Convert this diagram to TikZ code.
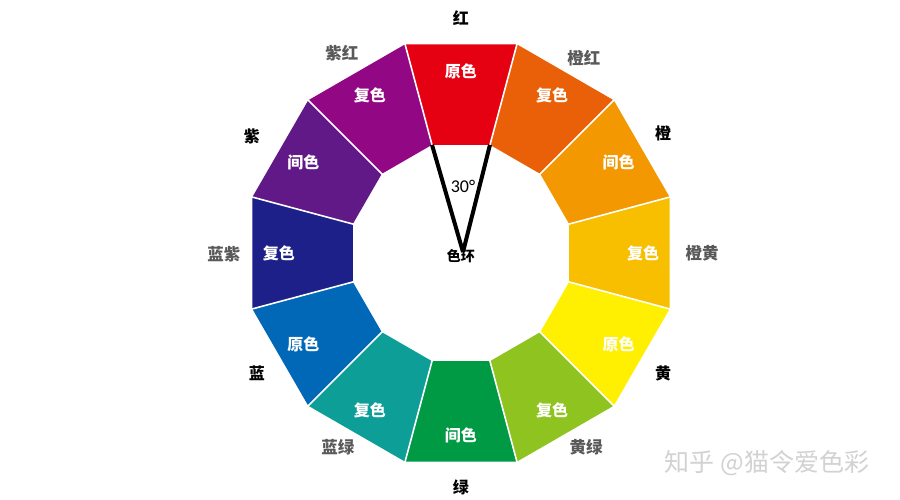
\documentclass[tikz,border=0pt]{standalone}
\usepackage{fontspec}
\setmainfont{Carlito}
\newfontfamily\cjk{Noto Sans CJK SC}
\definecolor{cR}{HTML}{E50012}
\definecolor{cRO}{HTML}{EA6008}
\definecolor{cO}{HTML}{F39800}
\definecolor{cOY}{HTML}{F7BF00}
\definecolor{cY}{HTML}{FFEF00}
\definecolor{cYG}{HTML}{8FC31F}
\definecolor{cG}{HTML}{009944}
\definecolor{cBG}{HTML}{0E9E98}
\definecolor{cB}{HTML}{0068B7}
\definecolor{cBV}{HTML}{1D2088}
\definecolor{cV}{HTML}{601986}
\definecolor{cRV}{HTML}{920783}
\definecolor{wm}{HTML}{D2D2D2}
\begin{document}
\begin{tikzpicture}[x=1pt,y=1pt,
  seglabel/.style={text=white,font=\cjk\bfseries\fontsize{16}{16}\selectfont,inner sep=0pt},
  mainlabel/.style={text=black,font=\cjk\bfseries\fontsize{16}{16}\selectfont,inner sep=0pt},
  sublabel/.style={text=black!65,font=\cjk\bfseries\fontsize{16.5}{16.5}\selectfont,inner sep=0pt},
  sep/.style={draw=white,line width=1.6pt},
  vline/.style={draw=black,line width=4pt,line cap=butt}]
\fill[white] (-461,-247) rectangle (439,253);
\useasboundingbox (-461,-247) rectangle (439,253);
% segments
\foreach \a/\c in {90/cR,60/cRO,30/cO,0/cOY,-30/cY,-60/cYG,-90/cG,-120/cBG,-150/cB,-180/cBV,-210/cV,-240/cRV}{
  \fill[\c] ({\a+15}:112) -- ({\a+15}:216) -- ({\a-15}:216) -- ({\a-15}:112) -- cycle;
}
\foreach \a in {15,45,...,345}{
  \draw[sep] (\a:111) -- (\a:217);
}
\foreach \a/\t [count=\i] in {90/原色,60/复色,30/间色,0/复色,-30/原色,-60/复色,-90/间色,-120/复色,-150/原色,-180/复色,-210/间色,-240/复色}{
  \node[seglabel] (s\i) at (\a:182) {\t};
}
% outer labels
\node[mainlabel] (lR)  at (0,235) {红};
\node[sublabel]  (lRO) at (123,195) {橙红};
\node[mainlabel] (lO)  at (202,120) {橙};
\node[sublabel]  (lOY) at (241,0) {橙黄};
\node[mainlabel] (lY)  at (202,-120) {黄};
\node[sublabel]  (lYG) at (125,-194) {黄绿};
\node[mainlabel] (lG)  at (0,-234) {绿};
\node[sublabel]  (lBG) at (-123,-194) {蓝绿};
\node[mainlabel] (lB)  at (-204,-120) {蓝};
\node[sublabel]  (lBV) at (-237,-1) {蓝紫};
\node[mainlabel] (lV)  at (-209,117) {紫};
\node[sublabel]  (lRV) at (-119,200) {紫红};
% angle
\coordinate (vl) at (105:112);
\coordinate (vr) at (75:112);
\coordinate (apex) at (2,1);
\draw[vline] (vl) -- (apex);
\draw[vline] (vr) -- (apex);
\node[inner sep=0pt,font=\fontsize{18}{18}\selectfont] (ang) at (2,67) {30°};
\node[mainlabel,font=\cjk\bfseries\fontsize{14}{14}\selectfont] (ring) at (0,-3) {色环};
% watermark
\node[inner sep=0pt,text=wm,font=\cjk\fontsize{25}{25}\selectfont] (wmk) at (306,-210) {知乎 @猫令爱色彩};
\end{tikzpicture}
\end{document}
